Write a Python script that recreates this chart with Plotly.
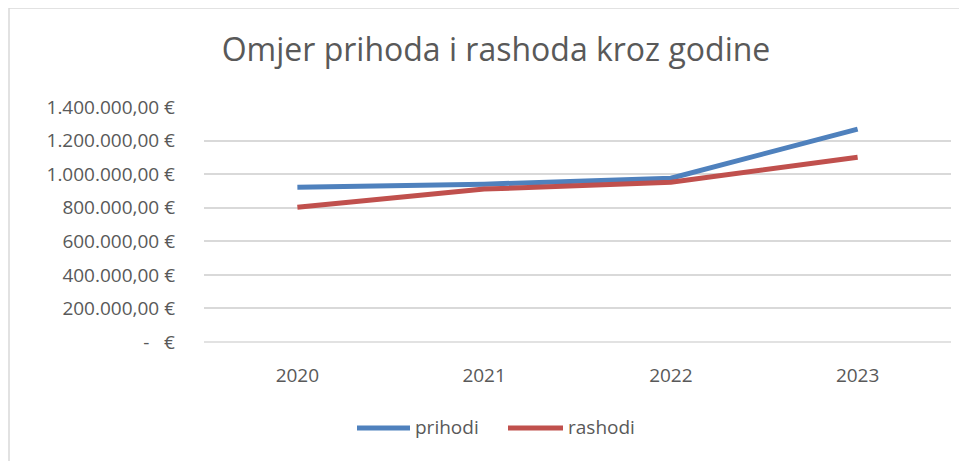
import plotly.graph_objects as go

years = ["2020", "2021", "2022", "2023"]
prihodi = [922000, 940000, 976000, 1268000]
rashodi = [803000, 911000, 952000, 1101000]
series_names = ["prihodi", "rashodi"]
series_colors = ["#4F81BD", "#C0504D"]
tick_vals = [0, 200000, 400000, 600000, 800000, 1000000, 1200000, 1400000]
tick_text = ["-   €", "200.000,00 €", "400.000,00 €", "600.000,00 €", "800.000,00 €",
             "1.000.000,00 €", "1.200.000,00 €", "1.400.000,00 €"]

OFF = 8  # page body margin
W, H = 967 - OFF, 461 - OFF
L, R, T, B = 204 - OFF, 16, 107 - OFF, 119
pw, ph = W - L - R, H - T - B

font = "Open Sans, sans-serif"
grey = "#595959"

fig = go.Figure()
for name, vals, col in zip(series_names, [prihodi, rashodi], series_colors):
    fig.add_trace(go.Scatter(x=years, y=vals, mode="lines", name=name,
                             line=dict(color=col, width=5), showlegend=False))

def px_x(p):
    return (p - OFF - L) / pw

def px_y(p):
    return (H - B - (p - OFF)) / ph

fig.update_layout(
    width=W, height=H,
    margin=dict(l=L, r=R, t=T, b=B),
    paper_bgcolor="white", plot_bgcolor="white",
    title=dict(text="Omjer prihoda i rashoda kroz godine", x=(496 - OFF) / W, xanchor="center",
               y=1 - (50 - OFF) / H, yanchor="middle",
               font=dict(family=font, size=32, color=grey)),
    xaxis=dict(type="category", showgrid=False, zeroline=False, showline=False,
               ticks="", tickfont=dict(family=font, size=19, color=grey),
               range=[-0.5, 3.5], ticklabelstandoff=20),
    yaxis=dict(range=[0, 1400000], tickvals=tick_vals, ticktext=tick_text,
               showgrid=True, gridcolor="#D9D9D9", gridwidth=1.5, zeroline=False,
               showline=False, ticks="", ticklabelstandoff=28,
               tickfont=dict(family=font, size=19, color=grey)),
    showlegend=False,
)
fig.add_shape(type="line", xref="paper", yref="paper", x0=0, x1=1, y0=0, y1=0,
              line=dict(color="#D9D9D9", width=1.5))
fig.add_shape(type="rect", xref="paper", yref="paper",
              x0=px_x(9), x1=px_x(1000), y0=px_y(8), y1=px_y(500),
              line=dict(color="#D9D9D9", width=1.5), fillcolor="rgba(0,0,0,0)")

# legend drawn manually
legend_items = [(357, 410, 413), (508, 563, 566)]
for (xa, xb, xt), name, col in zip(legend_items, series_names, series_colors):
    fig.add_shape(type="line", xref="paper", yref="paper",
                  x0=px_x(xa), x1=px_x(xb), y0=px_y(428), y1=px_y(428),
                  line=dict(color=col, width=5))
    fig.add_annotation(text=name, xref="paper", yref="paper", x=px_x(xt), y=px_y(427),
                       xanchor="left", yanchor="middle", showarrow=False,
                       font=dict(family=font, size=19, color=grey))

fig.write_html("out.html")
